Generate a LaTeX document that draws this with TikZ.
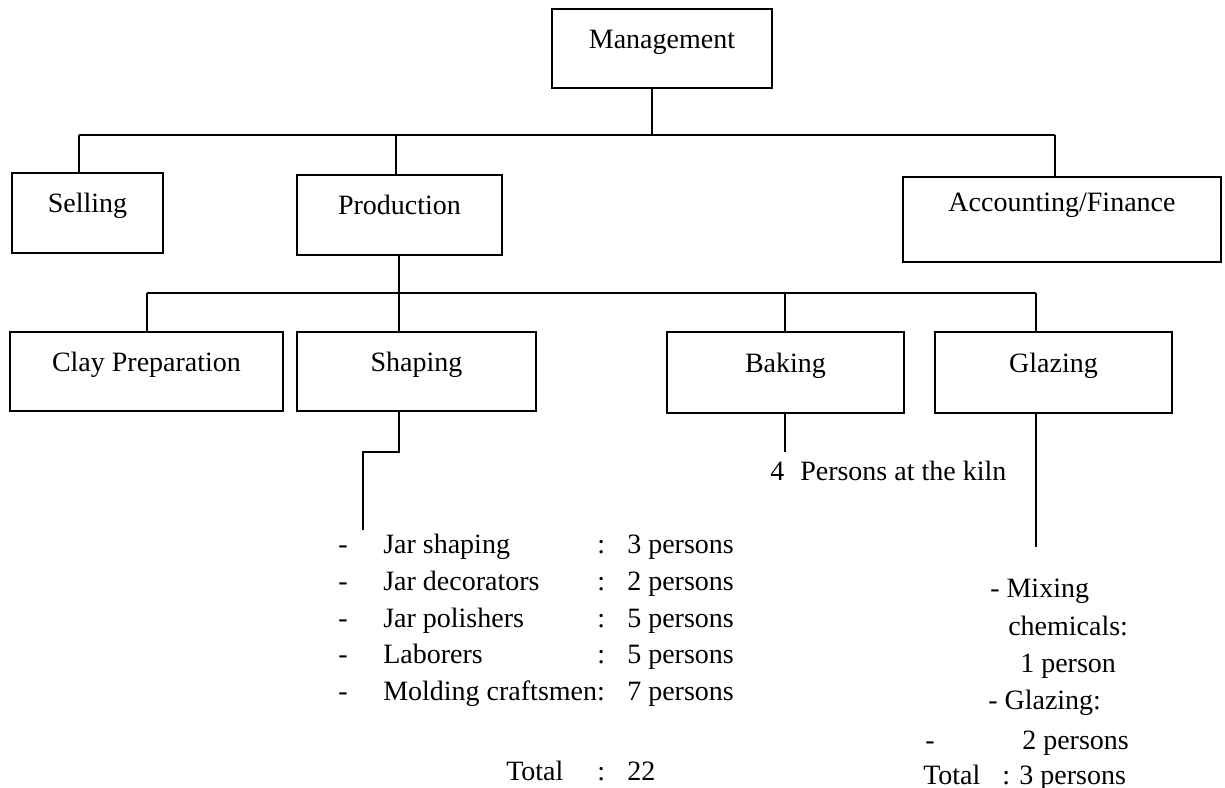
\documentclass[tikz,border=0pt]{standalone}
\usepackage{fontspec}
\setmainfont{Liberation Serif}
\begin{document}
\begin{tikzpicture}[x=0.75pt,y=-0.75pt,
  every node/.style={font=\fontsize{21}{25}\selectfont},
  ln/.style={line width=1.8pt},
  box/.style={draw, line width=1.8pt, inner sep=0pt, text height=13pt, text depth=13pt},
  txt/.style={inner sep=0pt, anchor=base west}]
\fill[white] (0,0) rectangle (1225,788);
\useasboundingbox (0,0) rectangle (1225,788);

% --- boxes ---
\node[box, minimum width=165pt, minimum height=59.25pt] (mgmt) at (662,48.5) {Management};
\node[box, minimum width=113.25pt, minimum height=60pt] (sell) at (87.5,213) {Selling};
\node[box, minimum width=153.75pt, minimum height=60pt] (prod) at (399.5,215) {Production};
\node[box, minimum width=238.5pt, minimum height=63.75pt, text depth=25pt] (acct) at (1062,219.5) {Accounting/Finance};
\node[box, minimum width=204.75pt, minimum height=59.25pt] (clay) at (146.5,371.5) {Clay Preparation};
\node[box, minimum width=179.25pt, minimum height=59.25pt] (shap) at (416.5,371.5) {Shaping};
\node[box, minimum width=177.75pt, minimum height=60.75pt] (bake) at (785.5,372.5) {Baking};
\node[box, minimum width=177.75pt, minimum height=60.75pt] (glaz) at (1053.5,372.5) {Glazing};

% --- first level bus ---
\coordinate (bm) at (652,135);
\coordinate (bs) at (79,135);
\coordinate (bp) at (396,135);
\coordinate (ba) at (1055,135);
\draw[ln] (bs) -- (ba);
\draw[ln] (mgmt.south -| bm) -- (bm);
\draw[ln] (bs) -- (sell.north -| bs);
\draw[ln] (bp) -- (prod.north -| bp);
\draw[ln] (ba) -- (acct.north -| ba);

% --- second level bus ---
\coordinate (bc) at (147,293);
\coordinate (bx) at (399,293);
\coordinate (bk) at (785,293);
\coordinate (bg) at (1036,293);
\draw[ln] (bc) -- (bg);
\draw[ln] (prod.south -| bx) -- (shap.north -| bx);
\draw[ln] (bc) -- (clay.north -| bc);
\draw[ln] (bk) -- (bake.north -| bk);
\draw[ln] (bg) -- (glaz.north -| bg);

% --- leaf connectors ---
\coordinate (sbend) at (363,452);
\coordinate (send) at (363,530);
\draw[ln] (shap.south -| bx) |- (sbend) -- (send);
\coordinate (kend) at (785,452);
\draw[ln] (bake.south -| kend) -- (kend);
\coordinate (gend) at (1036,547);
\draw[ln] (glaz.south -| gend) -- (gend);

% --- shaping staff ---
\node[txt] (d1) at (338,553) {-};
\node[txt] (l1) at (383,553) {Jar shaping};
\node[txt] (c1) at (597,553) {:};
\node[txt] (v1) at (627,553) {3 persons};
\node[txt] (d2) at (338,590) {-};
\node[txt] (l2) at (383,590) {Jar decorators};
\node[txt] (c2) at (597,590) {:};
\node[txt] (v2) at (627,590) {2 persons};
\node[txt] (d3) at (338,627) {-};
\node[txt] (l3) at (383,627) {Jar polishers};
\node[txt] (c3) at (597,627) {:};
\node[txt] (v3) at (627,627) {5 persons};
\node[txt] (d4) at (338,663) {-};
\node[txt] (l4) at (383,663) {Laborers};
\node[txt] (c4) at (597,663) {:};
\node[txt] (v4) at (627,663) {5 persons};
\node[txt] (d5) at (338,700) {-};
\node[txt] (l5) at (383,700) {Molding craftsmen:};
\node[txt] (v5) at (627,700) {7 persons};
\node[txt] (tl) at (506,780) {Total};
\node[txt] (tc) at (597,780) {:};
\node[txt] (tv) at (627,780) {22};

% --- baking staff ---
\node[txt] (k1) at (770,480) {4};
\node[txt] (k2) at (800,480) {Persons at the kiln};

% --- glazing staff ---
\node[txt] (g1) at (990,597) {- Mixing};
\node[txt] (g2) at (1008,635) {chemicals:};
\node[txt] (g3) at (1020,672) {1 person};
\node[txt] (g4) at (988,709) {- Glazing:};
\node[txt] (g5) at (925,749) {-};
\node[txt] (g6) at (1022,749) {2 persons};
\node[txt] (g7) at (923,784) {Total};
\node[txt] (g8) at (1002,784) {: 3 persons};
\end{tikzpicture}
\end{document}
